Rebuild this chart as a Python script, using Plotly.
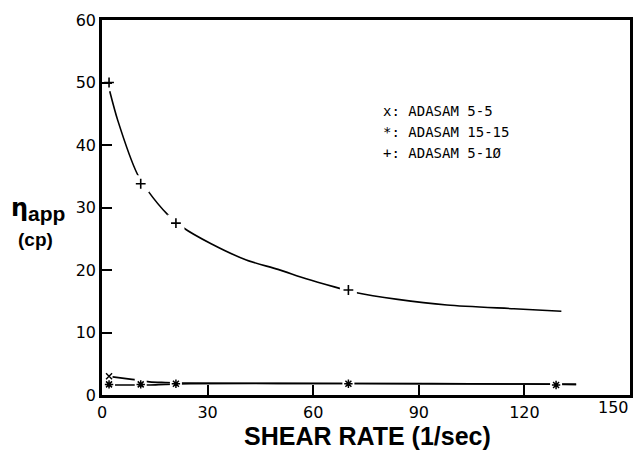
import plotly.graph_objects as go

# Measured points (shear rate in 1/sec, apparent viscosity in cp)
rate_5_10 = [2, 11, 21, 70]
visc_5_10 = [50.0, 33.8, 27.5, 16.8]
rate_5_5 = [2, 11, 21, 70, 129]
visc_5_5 = [3.0, 2.2, 1.9, 1.8, 1.6]
rate_15_15 = [2, 11, 21, 70, 129]
visc_15_15 = [1.7, 1.7, 1.8, 1.8, 1.6]

# Hand-drawn smoothing curves through each series
fit_x_5_10 = [2.2, 4.5, 10, 13, 18.6, 23, 31, 41, 50, 58, 66, 72, 84, 98, 117, 130.5]
fit_y_5_10 = [48.6, 43.9, 35.4, 32.7, 28.9, 26.8, 24.2, 21.6, 20.1, 18.6, 17.3, 16.4, 15.3, 14.4, 13.8, 13.4]
fit_x_5_5 = [3, 8.5, 13.5, 18, 25, 70, 121, 134.7]
fit_y_5_5 = [2.9, 2.5, 2.1, 2.0, 1.9, 1.85, 1.75, 1.7]
fit_x_15_15 = [3.5, 8.5, 13.5, 18, 25, 70, 121, 134.7]
fit_y_15_15 = [1.6, 1.6, 1.6, 1.7, 1.8, 1.85, 1.75, 1.7]

x_ticks = [0, 30, 60, 90, 120, 150]
y_ticks = [0, 10, 20, 30, 40, 50, 60]

legend_lines = ["x: ADASAM 5-5", "*: ADASAM 15-15", "+: ADASAM 5-1Ø"]

INK = "black"
W, H = 644, 451
ML, MR, MT, MB = 102, 11, 19, 56
pw, ph = W - ML - MR, H - MT - MB


def px(xp, yp):
    """Pixel position on the page -> paper coordinates."""
    return (xp - ML) / pw, 1 - (yp - MT) / ph


fig = go.Figure()

for fx, fy in [(fit_x_5_10, fit_y_5_10), (fit_x_5_5, fit_y_5_5), (fit_x_15_15, fit_y_15_15)]:
    fig.add_trace(go.Scatter(x=fx, y=fy, mode="lines",
                             line=dict(color=INK, width=1.6, shape="spline", smoothing=0.8),
                             hoverinfo="skip"))

# white knock-outs leave a small gap in the curve around each symbol
fig.add_trace(go.Scatter(x=rate_5_10, y=visc_5_10, mode="markers",
                         marker=dict(symbol="square", size=17, color="white", line=dict(width=0)),
                         hoverinfo="skip"))
fig.add_trace(go.Scatter(x=rate_15_15, y=visc_15_15, mode="markers",
                         marker=dict(symbol="square", size=12, color="white", line=dict(width=0)),
                         hoverinfo="skip"))

fig.add_trace(go.Scatter(x=rate_5_10, y=visc_5_10, mode="markers", name="ADASAM 5-10",
                         marker=dict(symbol="cross-thin", size=7, line=dict(color=INK, width=1.6))))
fig.add_trace(go.Scatter(x=rate_15_15, y=visc_15_15, mode="markers", name="ADASAM 15-15",
                         marker=dict(symbol="asterisk", size=7, line=dict(color=INK, width=1.5))))
fig.add_trace(go.Scatter(x=rate_5_5[:1], y=visc_5_5[:1], mode="markers", name="ADASAM 5-5",
                         marker=dict(symbol="x-thin", size=6, line=dict(color=INK, width=1.4))))

axis_common = dict(showgrid=False, zeroline=False, showline=True, linecolor=INK, linewidth=2.5,
                   mirror=True, ticks="inside", ticklen=10, tickwidth=1.5, tickcolor=INK,
                   tickfont=dict(family="DejaVu Sans", size=16, color=INK))

# the last x label sits flush with the frame, so it is placed by hand
fig.update_xaxes(range=[0, 150], tickvals=x_ticks,
                 ticktext=[str(v) if v != x_ticks[-1] else "" for v in x_ticks],
                 ticklabelstandoff=1, **axis_common)
fig.update_yaxes(range=[0, 60], tickvals=y_ticks, ticktext=[str(v) for v in y_ticks],
                 ticklabelstandoff=0, **axis_common)

fig.add_annotation(x=x_ticks[-1], y=0, xref="x", yref="paper", text=str(x_ticks[-1]),
                   showarrow=False, xanchor="right", yanchor="top", yshift=-1, xshift=1,
                   font=dict(family="DejaVu Sans", size=16, color=INK))

for i, txt in enumerate(legend_lines):
    ax, ay = px(383, 110 + 21 * i)
    fig.add_annotation(x=ax, y=ay, xref="paper", yref="paper", text=txt, showarrow=False,
                       xanchor="left", yanchor="middle",
                       font=dict(family="DejaVu Sans Mono", size=14, color=INK))

tx, ty = px(369, 436)
fig.add_annotation(x=tx, y=ty, xref="paper", yref="paper", text="<b>SHEAR RATE (1/sec)</b>",
                   showarrow=False, xanchor="center", yanchor="middle",
                   font=dict(family="Liberation Sans", size=25, color=INK))

ex, ey = px(19, 207)
fig.add_annotation(x=ex, y=ey, xref="paper", yref="paper", text="<b>η</b>", showarrow=False,
                   xanchor="center", yanchor="middle",
                   font=dict(family="DejaVu Sans", size=24, color=INK))
sx, sy = px(26, 213)
fig.add_annotation(x=sx, y=sy, xref="paper", yref="paper", text="<b>app</b>", showarrow=False,
                   xanchor="left", yanchor="middle",
                   font=dict(family="Liberation Sans", size=21, color=INK))
cx, cy = px(35, 239)
fig.add_annotation(x=cx, y=cy, xref="paper", yref="paper", text="<b>(cp)</b>", showarrow=False,
                   xanchor="center", yanchor="middle",
                   font=dict(family="Liberation Sans", size=19, color=INK))

fig.update_layout(width=W, height=H, autosize=False, showlegend=False,
                  margin=dict(l=ML, r=MR, t=MT, b=MB),
                  paper_bgcolor="white", plot_bgcolor="white")

fig.write_html("out.html")
